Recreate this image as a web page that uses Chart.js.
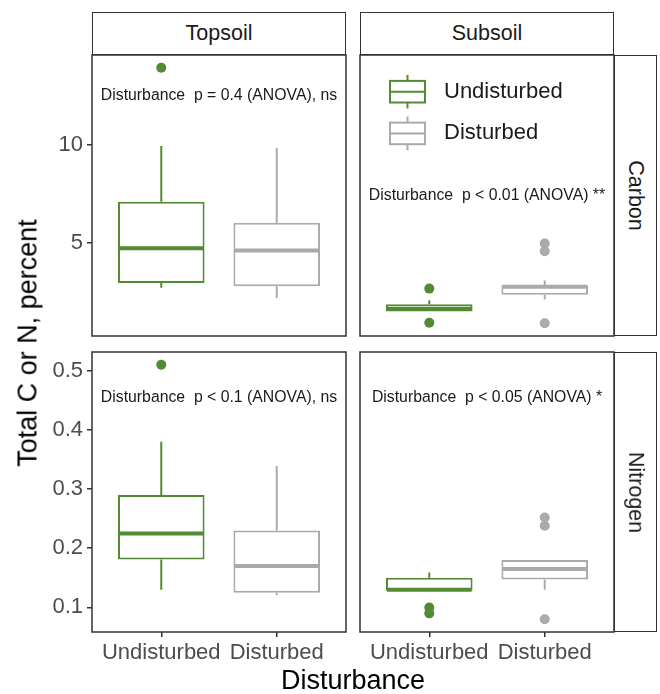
<!DOCTYPE html>
<html>
<head>
<meta charset="utf-8">
<script src="https://cdn.jsdelivr.net/npm/chart.js@4.4.1/dist/chart.umd.min.js"></script>
<style>
  html, body { margin: 0; padding: 0; background: #fff; }
  #wrap { position: relative; width: 660px; height: 694px; font-family: "Liberation Sans", Arial, sans-serif; }
  #wrap canvas { position: absolute; left: 0; top: 0; }
  .strip { position: absolute; box-sizing: border-box; border: 1.5px solid #333; background: #fff;
           color: #1a1a1a; font-size: 21.5px; display: flex; align-items: center; justify-content: center; }
  .side span { display: block; transform: rotate(90deg); white-space: nowrap; }
  .title { position: absolute; color: #000; font-size: 27px; white-space: nowrap; transform: translate(-50%, -50%); }
</style>
</head>
<body>
<div id="wrap">
  <canvas id="tl" width="660" height="694"></canvas>
  <canvas id="tr" width="660" height="694"></canvas>
  <canvas id="bl" width="660" height="694"></canvas>
  <canvas id="br" width="660" height="694"></canvas>

  <div class="strip" style="left:92px; top:12px; width:254px; height:43px;">Topsoil</div>
  <div class="strip" style="left:360px; top:12px; width:254px; height:43px;">Subsoil</div>
  <div class="strip side" style="left:614px; top:55px; width:43px; height:281px;"><span>Carbon</span></div>
  <div class="strip side" style="left:614px; top:352px; width:43px; height:280px;"><span>Nitrogen</span></div>

  <div class="title" style="left:28px; top:343px; transform: translate(-50%, -50%) rotate(-90deg);">Total C or N, percent</div>
  <div class="title" style="left:353px; top:680px;">Disturbance</div>
</div>
<script>
const groups = ["Undisturbed", "Disturbed"];
const groupColors = ["#538a33", "#aaaaaa"];

// box stats per group: [lower whisker, Q1, median, Q3, upper whisker]
const topCarbonStats = [[2.67, 2.92, 4.71, 7.10, 9.96], [2.15, 2.75, 4.59, 6.02, 9.86]];
const topCarbonOutliers = [[13.98], []];
const subCarbonStats = [[1.45, 1.45, 1.60, 1.82, 2.03], [2.07, 2.32, 2.72, 2.80, 3.04]];
const subCarbonOutliers = [[2.63, 0.87], [4.95, 4.55, 0.85]];
const topNitrogenStats = [[0.130, 0.181, 0.225, 0.290, 0.380], [0.121, 0.125, 0.170, 0.230, 0.339]];
const topNitrogenOutliers = [[0.51], []];
const subNitrogenStats = [[0.128, 0.128, 0.130, 0.150, 0.159], [0.130, 0.147, 0.165, 0.180, 0.180]];
const subNitrogenOutliers = [[0.100, 0.090], [0.252, 0.238, 0.080]];

const carbonTicks = [5, 10];
const nitrogenTicks = [0.1, 0.2, 0.3, 0.4, 0.5];

const testLabels = [
  "Disturbance  p = 0.4 (ANOVA), ns",
  "Disturbance  p < 0.01 (ANOVA) **",
  "Disturbance  p < 0.1 (ANOVA), ns",
  "Disturbance  p < 0.05 (ANOVA) *"
];
const testLabelY = [12.56, 7.4, 0.454, 0.454];

const FONT = '"Liberation Sans", Arial, sans-serif';

// shared y range per row, padded 5% like ggplot
function rowRange(statsList, outlierList) {
  const vals = [];
  statsList.forEach(s => s.forEach(g => vals.push(...g)));
  outlierList.forEach(o => o.forEach(g => vals.push(...g)));
  const lo = Math.min(...vals), hi = Math.max(...vals);
  const pad = (hi - lo) * 0.05;
  return [lo - pad, hi + pad];
}
const carbonRange = rowRange([topCarbonStats, subCarbonStats], [topCarbonOutliers, subCarbonOutliers]);
const nitrogenRange = rowRange([topNitrogenStats, subNitrogenStats], [topNitrogenOutliers, subNitrogenOutliers]);

// whiskers, medians, panel frame and the test label
const boxExtras = {
  id: "boxExtras",
  afterDatasetsDraw(chart, args, opts) {
    const { ctx, chartArea: a } = chart;
    const x = chart.scales.x, y = chart.scales.y;
    ctx.save();
    opts.stats.forEach((s, i) => {
      const bar = chart.getDatasetMeta(i).data[0];
      const cx = bar.x;
      const half = bar.width / 2;
      ctx.strokeStyle = groupColors[i];
      ctx.lineWidth = 2;
      ctx.beginPath();
      if (s[4] > s[3]) { ctx.moveTo(cx, y.getPixelForValue(s[3])); ctx.lineTo(cx, y.getPixelForValue(s[4])); }
      if (s[0] < s[1]) { ctx.moveTo(cx, y.getPixelForValue(s[1])); ctx.lineTo(cx, y.getPixelForValue(s[0])); }
      ctx.stroke();
      ctx.lineWidth = 4;
      ctx.beginPath();
      const my = y.getPixelForValue(s[2]);
      ctx.moveTo(cx - half + 1, my);
      ctx.lineTo(cx + half - 1, my);
      ctx.stroke();
    });
    ctx.strokeStyle = "#333";
    ctx.lineWidth = 1.5;
    ctx.strokeRect(a.left, a.top, a.width, a.height);
    ctx.fillStyle = "#1a1a1a";
    ctx.font = "15.8px " + FONT;
    ctx.textAlign = "center";
    ctx.textBaseline = "middle";
    ctx.fillText(opts.label, x.getPixelForValue(1.5), y.getPixelForValue(opts.labelY));
    ctx.restore();
  }
};

// boxplot legend drawn inside the subsoil carbon panel
const boxLegend = {
  id: "boxLegend",
  afterDraw(chart, args, opts) {
    if (!opts.show) return;
    const { ctx, chartArea: a } = chart;
    ctx.save();
    groups.forEach((g, i) => {
      const cy = a.top + 36.7 + i * 41.7;
      const x0 = a.left + 30, w = 35, h = 21.6;
      ctx.strokeStyle = groupColors[i];
      ctx.lineWidth = 2;
      ctx.fillStyle = "#fff";
      ctx.fillRect(x0, cy - h / 2, w, h);
      ctx.strokeRect(x0, cy - h / 2, w, h);
      ctx.beginPath();
      ctx.moveTo(x0 + w / 2, cy - h / 2 - 6); ctx.lineTo(x0 + w / 2, cy - h / 2);
      ctx.moveTo(x0 + w / 2, cy + h / 2); ctx.lineTo(x0 + w / 2, cy + h / 2 + 6);
      ctx.moveTo(x0, cy); ctx.lineTo(x0 + w, cy);
      ctx.stroke();
      ctx.fillStyle = "#1a1a1a";
      ctx.font = "22px " + FONT;
      ctx.textBaseline = "middle";
      ctx.fillText(g, x0 + 54, cy);
    });
    ctx.restore();
  }
};

function makePanel(id, stats, outliers, range, ticks, opt) {
  const datasets = [];
  stats.forEach((s, i) => {
    datasets.push({
      type: "bar",
      label: groups[i],
      data: [{ x: i + 1, y: [s[1], s[3]] }],
      backgroundColor: "#fff",
      borderColor: groupColors[i],
      borderWidth: 2,
      borderSkipped: false,
      grouped: false,
      categoryPercentage: 1,
      barPercentage: 0.75,
      order: 2
    });
  });
  outliers.forEach((o, i) => {
    datasets.push({
      type: "scatter",
      label: groups[i] + " outliers",
      data: o.map(v => ({ x: i + 1, y: v })),
      backgroundColor: groupColors[i],
      borderWidth: 0,
      pointRadius: 5,
      order: 1
    });
  });

  return new Chart(document.getElementById(id), {
    type: "bar",
    data: { datasets },
    plugins: [boxExtras, boxLegend],
    options: {
      responsive: false,
      animation: false,
      events: [],
      layout: { padding: opt.padding },
      plugins: {
        legend: { display: false },
        tooltip: { enabled: false },
        boxExtras: { stats, label: opt.label, labelY: opt.labelY },
        boxLegend: { show: !!opt.legend }
      },
      scales: {
        x: {
          type: "linear",
          offset: false,
          bounds: "data",
          min: 0.4,
          max: 2.6,
          display: opt.showX,
          afterBuildTicks: s => { s.ticks = [{ value: 1 }, { value: 2 }]; },
          afterFit: s => { if (opt.showX) s.height = 40; },
          grid: { offset: false, drawOnChartArea: false, drawTicks: true, tickLength: 5, color: "#333", lineWidth: 1.5 },
          border: { display: false },
          ticks: {
            autoSkip: false,
            maxRotation: 0,
            padding: 3,
            color: "#4d4d4d",
            font: { family: FONT, size: 22 },
            callback: v => groups[v - 1] || ""
          }
        },
        y: {
          type: "linear",
          min: range[0],
          max: range[1],
          display: opt.showY,
          afterBuildTicks: s => { s.ticks = ticks.map(v => ({ value: v })); },
          afterFit: s => { if (opt.showY) s.width = 60; },
          grid: { drawOnChartArea: false, drawTicks: true, tickLength: 5, color: "#333", lineWidth: 1.5 },
          border: { display: false },
          ticks: {
            autoSkip: false,
            padding: 4,
            color: "#4d4d4d",
            font: { family: FONT, size: 22 },
            callback: v => String(v)
          }
        }
      }
    }
  });
}

// panel areas: left 92-346, right 360-614; top row 55-336, bottom row 352-632
makePanel("tl", topCarbonStats, topCarbonOutliers, carbonRange, carbonTicks, {
  showX: false, showY: true, label: testLabels[0], labelY: testLabelY[0],
  padding: { left: 32, right: 314, top: 55, bottom: 358 }
});
makePanel("tr", subCarbonStats, subCarbonOutliers, carbonRange, carbonTicks, {
  showX: false, showY: false, label: testLabels[1], labelY: testLabelY[1], legend: true,
  padding: { left: 360, right: 46, top: 55, bottom: 358 }
});
makePanel("bl", topNitrogenStats, topNitrogenOutliers, nitrogenRange, nitrogenTicks, {
  showX: true, showY: true, label: testLabels[2], labelY: testLabelY[2],
  padding: { left: 32, right: 314, top: 352, bottom: 22 }
});
makePanel("br", subNitrogenStats, subNitrogenOutliers, nitrogenRange, nitrogenTicks, {
  showX: true, showY: false, label: testLabels[3], labelY: testLabelY[3],
  padding: { left: 360, right: 46, top: 352, bottom: 22 }
});
</script>
</body>
</html>
